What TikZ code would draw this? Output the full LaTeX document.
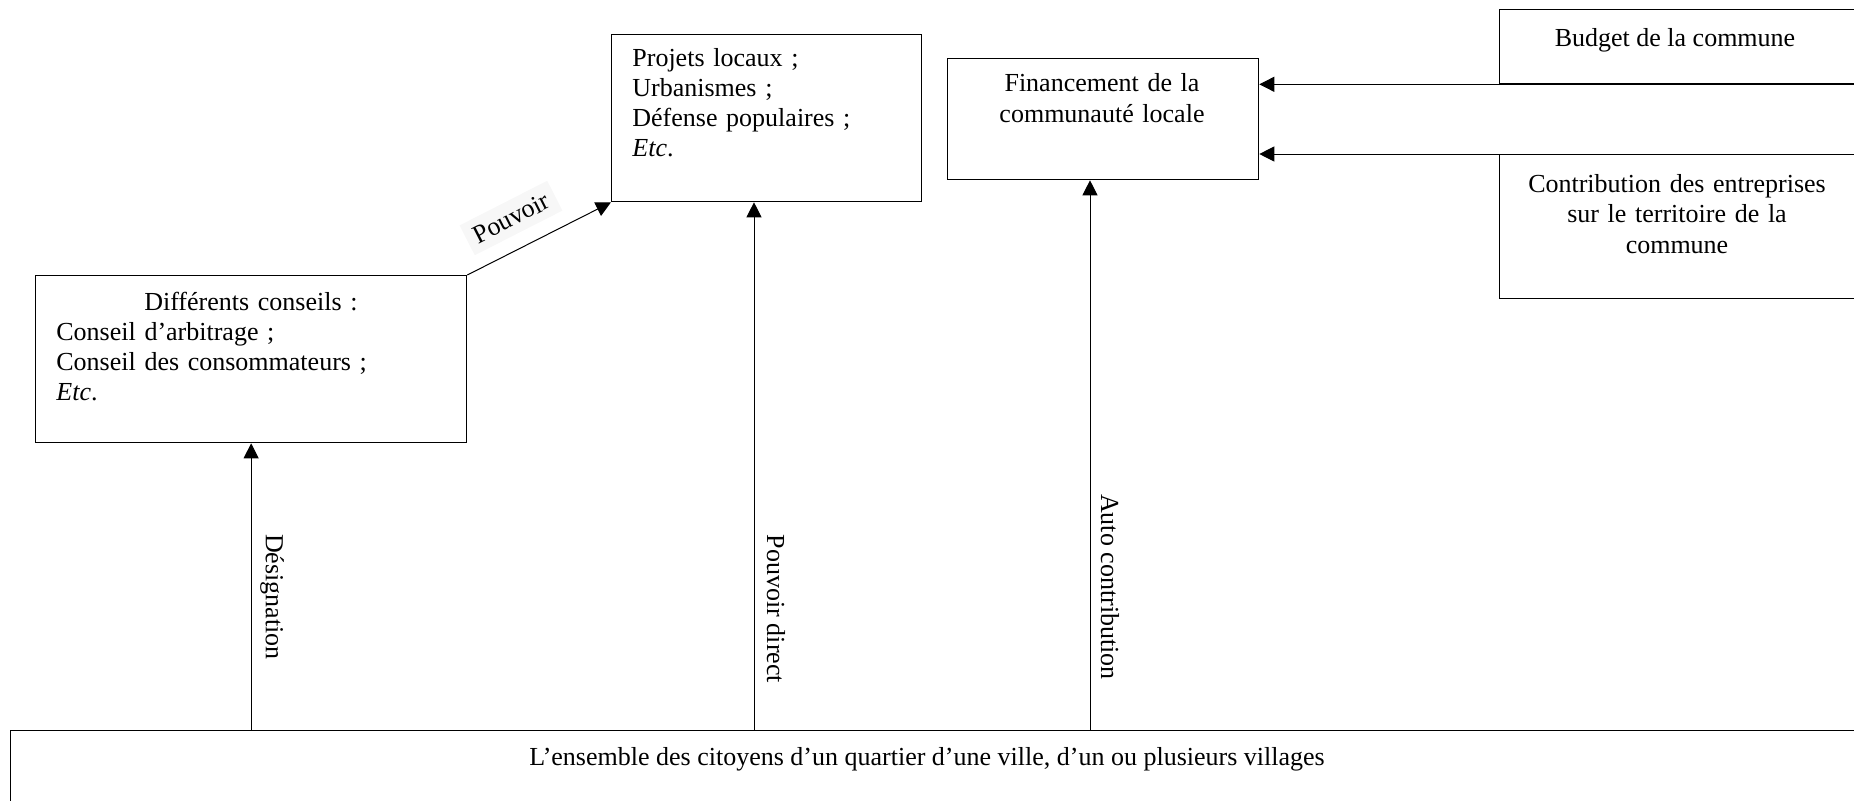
\documentclass[tikz,border=0pt]{standalone}
\usepackage{fontspec}
\setmainfont{Liberation Serif}
\usetikzlibrary{arrows.meta}
\tikzset{
  box/.style={draw, line width=0.65pt, inner sep=0pt, anchor=north west},
  txt/.style={inner sep=0pt, font=\fontsize{13pt}{15pt}\selectfont},
  arr/.style={line width=0.5pt, -{Triangle[width=7.5pt,length=7.5pt]}},
  vlab/.style={txt, rotate=-90}
}
\begin{document}
\begin{tikzpicture}[x=0.5pt, y=-0.5pt]
\useasboundingbox (0,0) rectangle (1854,800);
\clip (0,0) rectangle (1854,800);
% boxes
\node[box, minimum width=215.5pt, minimum height=83.5pt] (cons) at (35,275) {};
\node[box, minimum width=155pt, minimum height=83.5pt] (proj) at (611,34) {};
\node[box, minimum width=155.5pt, minimum height=60.5pt] (fin) at (947,58) {};
\node[box, minimum width=180.5pt, minimum height=37pt] (budget) at (1499,9) {};
\node[box, minimum width=180.5pt, minimum height=72pt] (contrib) at (1499,154) {};
\node[box, minimum width=927.5pt, minimum height=50pt] (cit) at (10,730) {};
% texts
\node[txt, anchor=base west, text width=194.5pt, align=left] (consT) at (56,310)
  {\makebox[\linewidth][c]{Différents conseils :}\\Conseil d’arbitrage ;\\Conseil des consommateurs ;\\\textit{Etc}.};
\node[txt, anchor=base west, text width=140pt, align=left] (projT) at (632,66)
  {Projets locaux ;\\Urbanismes ;\\Défense populaires ;\\\textit{Etc}.};
\node[txt, anchor=base, text width=150pt, align=center, font=\fontsize{13pt}{15.5pt}\selectfont] (finT) at (1102,91)
  {Financement de la\\communauté locale};
\node[txt, anchor=base] (budgetT) at (1675,46) {Budget de la commune};
\node[txt, anchor=base, text width=175pt, align=center, font=\fontsize{13pt}{15.4pt}\selectfont] (contribT) at (1677,192)
  {Contribution des entreprises\\sur le territoire de la\\commune};
\node[txt, anchor=base] (citT) at (927,765)
  {L’ensemble des citoyens d’un quartier d’une ville, d’un ou plusieurs villages};
% connectors
\coordinate (pd) at (754,0);
\coordinate (ac) at (1090,0);
\draw[arr] (cit.north -| cons.south) -- (cons.south);
\draw[arr] (cit.north -| pd) -- (proj.south -| pd);
\draw[arr] (cit.north -| ac) -- (fin.south -| ac);
\draw[arr] (cons.north east) -- (proj.south west);
\draw[arr] (budget.south east) -- (fin.east |- budget.south);
\draw[arr] (contrib.north east) -- (fin.east |- contrib.north);
% labels
\node[txt, rotate=27, fill=black!3, inner sep=4pt] (pouvoir) at (511,218) {Pouvoir};
\node[vlab] (desig) at (272,597) {Désignation};
\node[vlab] (pdir) at (776,609) {Pouvoir direct};
\node[vlab] (auto) at (1110,587) {Auto contribution};
\end{tikzpicture}
\end{document}
